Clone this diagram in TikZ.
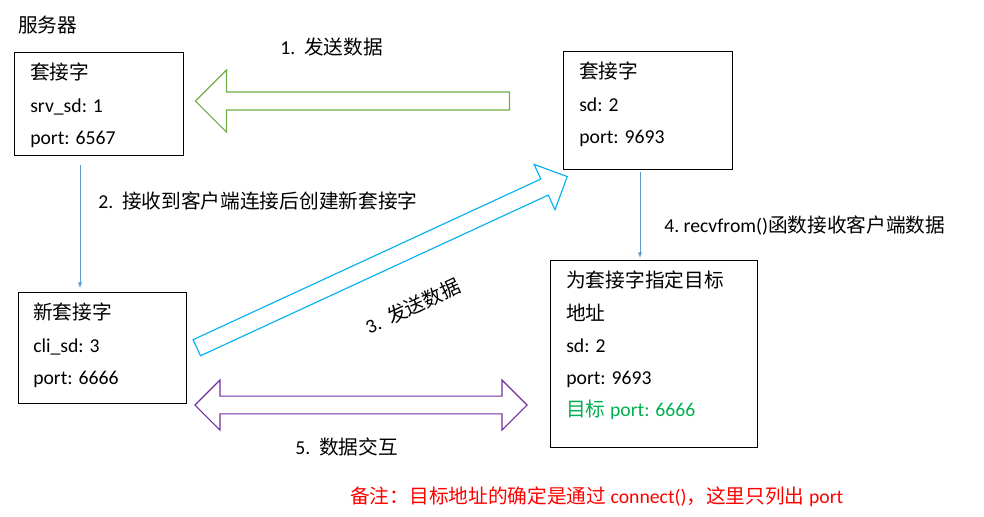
\documentclass[tikz,border=0pt]{standalone}
\usepackage{fontspec}
\setmainfont{Carlito}
\newfontfamily\cjk{Noto Sans CJK SC}
\usetikzlibrary{shapes.arrows}
\definecolor{sendgreen}{HTML}{70AD47}
\definecolor{sendblue}{HTML}{00B0F0}
\definecolor{xchgviolet}{HTML}{7030A0}
\definecolor{linkblue}{HTML}{5B9BD5}
\definecolor{notegreen}{HTML}{00B050}
\tikzset{
  boxtext/.style={anchor=north west, align=left, inner sep=0pt, font=\fontsize{14}{22.8}\selectfont},
  lbl/.style={anchor=west, inner sep=0pt, font=\fontsize{14}{16}\selectfont},
  thinarrow/.style={draw=linkblue, ->, >=latex}
}
\begin{document}
\begin{tikzpicture}[x=0.025cm, y=-0.025cm]
    \useasboundingbox (0,0) rectangle (984,516);

    % Server
    \node[lbl] at (18,25) {\cjk 服务器};
    \draw (14,52) rectangle (183,155);
    \coordinate (srvS) at (80,165);
    \node[boxtext] at (30,63) {{\cjk 套接字}\\srv\_sd: 1\\port: 6567};

    % Client socket
    \draw (563,51) rectangle (732,169);
    \coordinate (cliS) at (640,172);
    \node[boxtext] at (579,62) {{\cjk 套接字}\\sd: 2\\port: 9693};

    % New socket
    \draw (18,292) rectangle (186,403);
    \coordinate (newN) at (80,288);
    \node[boxtext] at (33,303) {{\cjk 新套接字}\\cli\_sd: 3\\port: 6666};

    % Client with target
    \draw (550,260) rectangle (757,447);
    \coordinate (tgtN) at (640,258);
    \node[boxtext] at (566,271) {{\cjk 为套接字指定目标}\\{\cjk 地址}\\sd: 2\\port: 9693\\\textcolor{notegreen}{{\cjk 目标} port: 6666}};

    % Thin arrows
    \draw[thinarrow] (srvS) -- (newN);
    \draw[thinarrow] (cliS) -- (tgtN);

    % Big arrows
    \node[single arrow, draw=sendgreen, thick, shape border rotate=180,
          minimum width=1.55cm, minimum height=7.85cm, single arrow head extend=0.4cm,
          single arrow tip angle=90, inner sep=0pt, text height=0.3cm] (sendA) at (357,101) {};
    \node[single arrow, draw=sendblue, thick, rotate=24.8,
          minimum width=1.25cm, minimum height=10.2cm, single arrow head extend=0.3cm,
          inner sep=0pt, text height=0.3cm] (sendB) at (378,264) {};
    \node[double arrow, draw=xchgviolet, thick,
          minimum width=1.25cm, minimum height=8.3cm, double arrow head extend=0.3cm,
          inner sep=0pt, text height=0.3cm] (xchg) at (361,405) {};

    % Labels
    \node[lbl] at (280,47) {1.\ \ {\cjk 发送数据}};
    \node[lbl] at (98,201) {2.\ \ {\cjk 接收到客户端连接后创建新套接字}};
    \node[lbl, rotate=24.8] at (366,328) {3.\ \ {\cjk 发送数据}};
    \node[lbl] at (664,225) {4.\ recvfrom(){\cjk 函数接收客户端数据}};
    \node[lbl] at (295,447) {5.\ \ {\cjk 数据交互}};
    \node[lbl, text=red] at (350,497) {{\cjk 备注：目标地址的确定是通过} connect(){\cjk ，这里只列出} port};
\end{tikzpicture}
\end{document}
